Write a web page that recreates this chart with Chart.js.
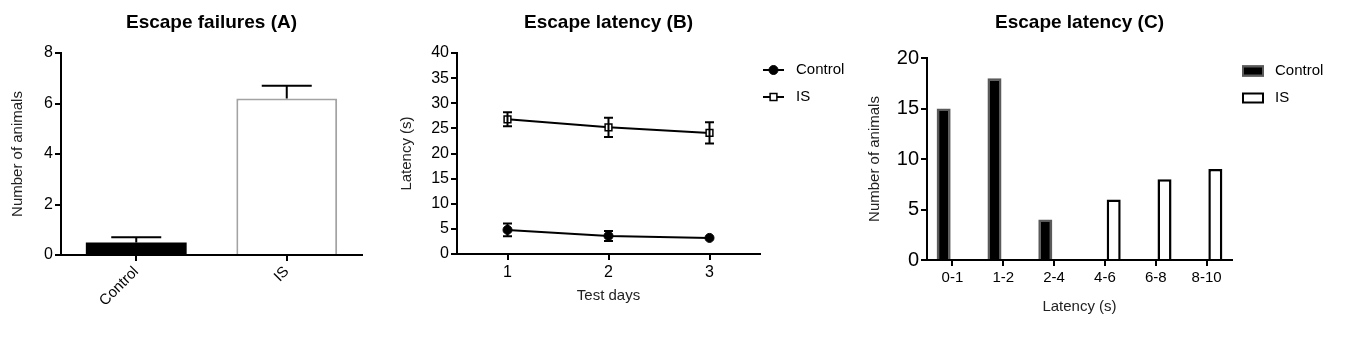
<!DOCTYPE html>
<html>
<head>
<meta charset="utf-8">
<title>Escape tests</title>
<script src="https://cdn.jsdelivr.net/npm/chart.js@4/dist/chart.umd.min.js"></script>
<style>
    body { margin: 0; background: #fff; }
    .panel { position: absolute; top: 0; }
</style>
</head>
<body>
<canvas id="failures" class="panel" width="380" height="342" style="left:0"></canvas>
<canvas id="latency" class="panel" width="460" height="342" style="left:390px"></canvas>
<canvas id="histogram" class="panel" width="496" height="342" style="left:850px"></canvas>

<script>
// ========== DATA ==========
const failureGroups = ['Control', 'IS'];
const failureMeans = [0.5, 6.2];
const failureSem = [0.2, 0.5];

const testDays = ['1', '2', '3'];
const controlLatency = [4.8, 3.6, 3.2];
const controlLatencySem = [1.25, 1.0, 0.3];
const isLatency = [26.8, 25.2, 24.1];
const isLatencySem = [1.4, 1.9, 2.1];

const latencyBins = ['0-1', '1-2', '2-4', '4-6', '6-8', '8-10'];
const controlCounts = [15, 18, 4, 0, 0, 0];
const isCounts = [0, 0, 0, 6, 8, 9];

// ========== SHARED ==========
const FONT = "'Liberation Sans', Arial, sans-serif";
Chart.defaults.font.family = FONT;
Chart.defaults.color = '#000';

// title centred over the plot area, not the whole canvas
const panelTitle = {
    id: 'panelTitle',
    afterDraw(chart, args, opts) {
        const { ctx, chartArea } = chart;
        ctx.save();
        ctx.font = 'bold 19px ' + FONT;
        ctx.fillStyle = '#000';
        ctx.textAlign = 'center';
        ctx.textBaseline = 'middle';
        ctx.fillText(opts.text, (chartArea.left + chartArea.right) / 2, opts.y);
        ctx.restore();
    }
};

// SEM whiskers; datasets carry their own `errors` array
const errorBars = {
    id: 'errorBars',
    afterDatasetsDraw(chart, args, opts) {
        const { ctx } = chart;
        const yScale = chart.scales.y;
        ctx.save();
        ctx.strokeStyle = '#000';
        ctx.lineWidth = 2;
        chart.data.datasets.forEach((ds, di) => {
            if (!ds.errors) return;
            chart.getDatasetMeta(di).data.forEach((el, i) => {
                const v = ds.data[i], e = ds.errors[i];
                if (v == null || !e) return;
                const yTop = yScale.getPixelForValue(v + e);
                const yBot = opts.upperOnly ? el.y : yScale.getPixelForValue(v - e);
                // whiskers shorter than the symbol are hidden
                if (el.y - yTop < (opts.minLength || 0)) return;
                const half = opts.capWidth / 2;
                ctx.beginPath();
                ctx.moveTo(el.x, yTop); ctx.lineTo(el.x, yBot);
                ctx.moveTo(el.x - half, yTop); ctx.lineTo(el.x + half, yTop);
                if (!opts.upperOnly) {
                    ctx.moveTo(el.x - half, yBot); ctx.lineTo(el.x + half, yBot);
                }
                ctx.stroke();
            });
        });
        ctx.restore();
    }
};

// legend at a fixed spot to the right of the plot
const sideLegend = {
    id: 'sideLegend',
    afterDraw(chart, args, opts) {
        const { ctx } = chart;
        chart.data.datasets.forEach((ds, i) => {
            const y = opts.y + i * opts.rowGap;
            ctx.save();
            if (opts.kind === 'line') {
                ctx.strokeStyle = ds.borderColor;
                ctx.lineWidth = ds.borderWidth;
                ctx.beginPath();
                ctx.moveTo(opts.x, y);
                ctx.lineTo(opts.x + opts.width, y);
                ctx.stroke();
                ctx.fillStyle = ds.pointBackgroundColor;
                ctx.strokeStyle = ds.pointBorderColor;
                ctx.lineWidth = ds.pointBorderWidth;
                Chart.helpers.drawPoint(ctx, {
                    pointStyle: ds.pointStyle, radius: ds.pointRadius, borderWidth: ds.pointBorderWidth, rotation: 0
                }, opts.x + opts.width / 2, y);
            } else {
                const bw = opts.borderWidth;
                ctx.fillStyle = ds.backgroundColor;
                ctx.fillRect(opts.x, y - opts.height / 2, opts.width, opts.height);
                ctx.strokeStyle = ds.borderColor;
                ctx.lineWidth = bw;
                ctx.strokeRect(opts.x + bw / 2, y - opts.height / 2 + bw / 2, opts.width - bw, opts.height - bw);
            }
            ctx.font = '15px ' + FONT;
            ctx.fillStyle = '#000';
            ctx.textAlign = 'left';
            ctx.textBaseline = 'middle';
            ctx.fillText(ds.label, opts.textX, y);
            ctx.restore();
        });
    }
};

function axisX(height, extra) {
    return Object.assign({
        grid: { drawOnChartArea: false, tickLength: 6, lineWidth: 2, color: '#000', offset: false },
        border: { color: '#000', width: 2 },
        afterFit: s => { s.height = height; }
    }, extra);
}

function axisY(width, extra) {
    return Object.assign({
        grid: { drawOnChartArea: false, tickLength: 6, lineWidth: 2, color: '#000' },
        border: { color: '#000', width: 2 },
        afterFit: s => { s.width = width; }
    }, extra);
}

// ========== (A) ESCAPE FAILURES ==========
new Chart(document.getElementById('failures'), {
    type: 'bar',
    data: {
        labels: failureGroups,
        datasets: [{
            label: 'Escape failures',
            data: failureMeans,
            errors: failureSem,
            backgroundColor: ['#000', '#fff'],
            borderColor: ['#000', '#a3a3a3'],
            borderWidth: [0, 2],
            categoryPercentage: 1,
            barPercentage: 0.67
        }]
    },
    options: {
        responsive: false,
        animation: false,
        layout: { padding: { top: 53, right: 18, left: 0, bottom: 0 } },
        plugins: {
            legend: { display: false },
            tooltip: { enabled: false },
            panelTitle: { text: 'Escape failures (A)', y: 23 },
            errorBars: { upperOnly: true, capWidth: 50 }
        },
        scales: {
            x: axisX(87, {
                ticks: { minRotation: 45, maxRotation: 45, padding: 2, font: { size: 15 } }
            }),
            y: axisY(61, {
                min: 0, max: 8,
                ticks: { stepSize: 2, padding: 2, font: { size: 16 } },
                title: { display: true, text: 'Number of animals', color: '#222', font: { size: 15 }, padding: { top: 9, bottom: 0 } }
            })
        }
    },
    plugins: [panelTitle, errorBars]
});

// ========== (B) ESCAPE LATENCY OVER DAYS ==========
new Chart(document.getElementById('latency'), {
    type: 'line',
    data: {
        labels: testDays,
        datasets: [{
            label: 'Control',
            data: controlLatency,
            errors: controlLatencySem,
            borderColor: '#000',
            borderWidth: 2,
            pointStyle: 'circle',
            pointRadius: 4.5,
            pointBackgroundColor: '#000',
            pointBorderColor: '#000',
            pointBorderWidth: 1
        }, {
            label: 'IS',
            data: isLatency,
            errors: isLatencySem,
            borderColor: '#000',
            borderWidth: 2,
            pointStyle: 'rect',
            pointRadius: 4.8,
            pointBackgroundColor: '#fff',
            pointBorderColor: '#000',
            pointBorderWidth: 1.5
        }]
    },
    options: {
        responsive: false,
        animation: false,
        layout: { padding: { top: 53, right: 90, left: 0, bottom: 0 } },
        plugins: {
            legend: { display: false },
            tooltip: { enabled: false },
            panelTitle: { text: 'Escape latency (B)', y: 23 },
            errorBars: { capWidth: 9, minLength: 4.5 },
            sideLegend: { kind: 'line', x: 373, y: 70, rowGap: 27, width: 21, textX: 406 }
        },
        scales: {
            x: axisX(88, {
                offset: true,
                ticks: { padding: 3, font: { size: 16 } },
                title: { display: true, text: 'Test days', color: '#222', font: { size: 15 }, padding: { top: 0, bottom: 37 } }
            }),
            y: axisY(67, {
                min: 0, max: 40,
                ticks: { stepSize: 5, padding: 2, font: { size: 16 } },
                title: { display: true, text: 'Latency (s)', color: '#222', font: { size: 15 }, padding: { top: 8, bottom: 0 } }
            })
        }
    },
    plugins: [panelTitle, errorBars, sideLegend]
});

// ========== (C) LATENCY DISTRIBUTION ==========
new Chart(document.getElementById('histogram'), {
    type: 'bar',
    data: {
        labels: latencyBins,
        datasets: [{
            label: 'Control',
            data: controlCounts,
            backgroundColor: '#000',
            borderColor: '#5a5a5a',
            borderWidth: 2.5
        }, {
            label: 'IS',
            data: isCounts,
            backgroundColor: '#fff',
            borderColor: '#000',
            borderWidth: 2.5
        }]
    },
    options: {
        responsive: false,
        animation: false,
        datasets: { bar: { categoryPercentage: 0.69, barPercentage: 0.8 } },
        layout: { padding: { top: 58, right: 114, left: 0, bottom: 0 } },
        plugins: {
            legend: { display: false },
            tooltip: { enabled: false },
            panelTitle: { text: 'Escape latency (C)', y: 23 },
            sideLegend: { kind: 'box', x: 392, y: 71, rowGap: 27, width: 22, height: 11, borderWidth: 2, textX: 425 }
        },
        scales: {
            x: axisX(82, {
                ticks: { padding: 3, font: { size: 15 } },
                title: { display: true, text: 'Latency (s)', color: '#222', font: { size: 15 }, padding: { top: 0, bottom: 26 } }
            }),
            y: axisY(77, {
                min: 0, max: 20,
                ticks: { stepSize: 5, padding: 2, font: { size: 20 } },
                title: { display: true, text: 'Number of animals', color: '#222', font: { size: 15 }, padding: { top: 16, bottom: 0 } }
            })
        }
    },
    plugins: [panelTitle, sideLegend]
});
</script>
</body>
</html>
